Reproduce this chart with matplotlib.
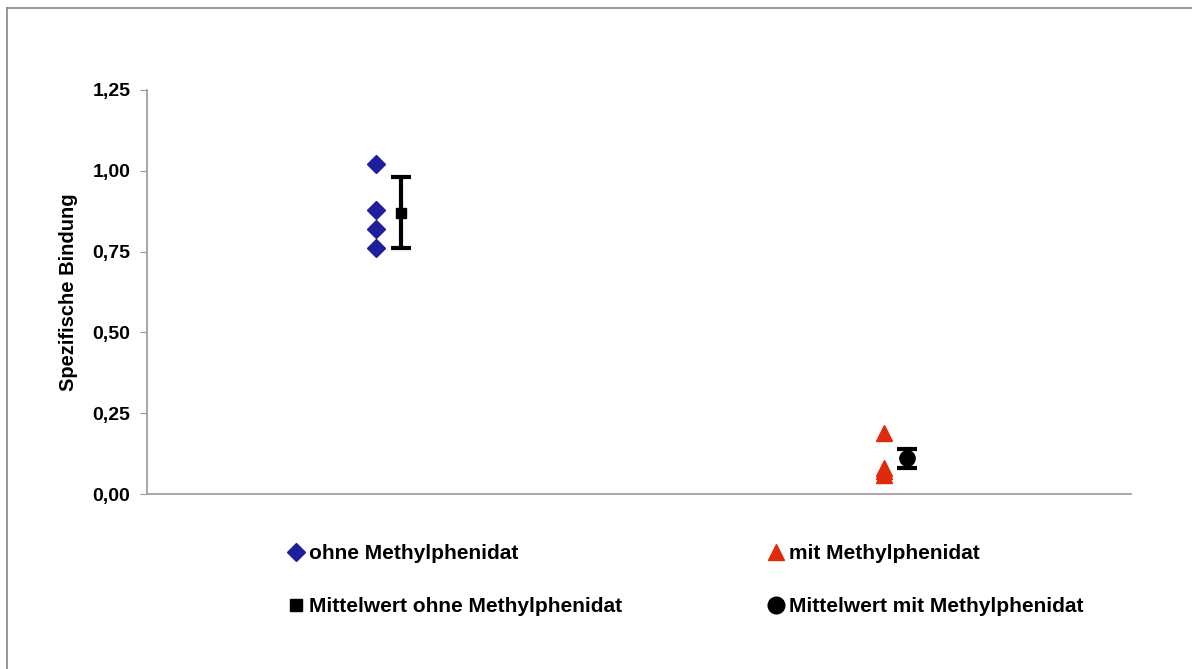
import numpy as np
import matplotlib.pyplot as plt
from matplotlib.lines import Line2D

plt.rcParams['font.family'] = ['Liberation Sans', 'DejaVu Sans']

# Data
ohne = [1.02, 0.88, 0.82, 0.76]
mit = [0.19, 0.08, 0.07, 0.06]
mean_ohne, err_ohne = 0.87, 0.11
mean_mit, err_mit = 0.11, 0.03
x_ohne, x_mit = 1.0, 3.22
x_mean_ohne, x_mean_mit = 1.11, 3.32
yticks = [0.0, 0.25, 0.5, 0.75, 1.0, 1.25]

fig = plt.figure(figsize=(11.92, 6.69), dpi=100)
ax = fig.add_axes([147/1192, 1-494/669, (1131-147)/1192, (494-90)/669])

blue = '#1f1f9e'
red = '#e02a0c'

ax.plot([x_ohne]*len(ohne), ohne, 'D', color=blue, ms=9, ls='none')
ax.plot([x_mit]*len(mit), mit, '^', color=red, ms=12, ls='none')
ax.errorbar([x_mean_ohne], [mean_ohne], yerr=[err_ohne], fmt='s', color='black',
            ms=7, elinewidth=3, capsize=7, capthick=3)
ax.errorbar([x_mean_mit], [mean_mit], yerr=[err_mit], fmt='o', color='black',
            ms=11, elinewidth=3, capsize=7, capthick=3)

ax.set_xlim(0, 4.3)
ax.set_ylim(0, 1.25)
ax.set_yticks(yticks)
ax.set_yticklabels([('%.2f' % v).replace('.', ',') for v in yticks],
                   fontsize=14, fontweight='bold')
ax.set_xticks([])
ax.tick_params(axis='y', direction='out', length=5, color='#999999', pad=7)
for s in ['top', 'right']:
    ax.spines[s].set_visible(False)
for s in ['left', 'bottom']:
    ax.spines[s].set_color('#a0a0a0')
    ax.spines[s].set_linewidth(1.3)
ax.set_ylabel('Spezifische Bindung', fontsize=14.5, fontweight='bold', labelpad=10)

# Outer frame (left and top visible)
fig.add_artist(Line2D([7/1192, 7/1192], [0, 1-8/669], color='#888888', lw=1.2))
fig.add_artist(Line2D([7/1192, 1], [1-8/669, 1-8/669], color='#888888', lw=1.2))

# Legend in two columns
h1 = [Line2D([], [], marker='D', color=blue, ls='none', ms=9),
      Line2D([], [], marker='s', color='black', ls='none', ms=8)]
h2 = [Line2D([], [], marker='^', color=red, ls='none', ms=12),
      Line2D([], [], marker='o', color='black', ls='none', ms=12)]
kw = dict(frameon=False, loc='upper left', handlelength=0.5, handletextpad=0.35,
          labelspacing=1.65, borderpad=0, borderaxespad=0,
          prop={'size': 15, 'weight': 'bold'})
leg1 = fig.legend(h1, ['ohne Methylphenidat', 'Mittelwert ohne Methylphenidat'],
                  bbox_to_anchor=(291/1192, 1-544/669), **kw)
leg2 = fig.legend(h2, ['mit Methylphenidat', 'Mittelwert mit Methylphenidat'],
                  bbox_to_anchor=(771/1192, 1-544/669), **kw)

fig.savefig('out.png', dpi=100)
